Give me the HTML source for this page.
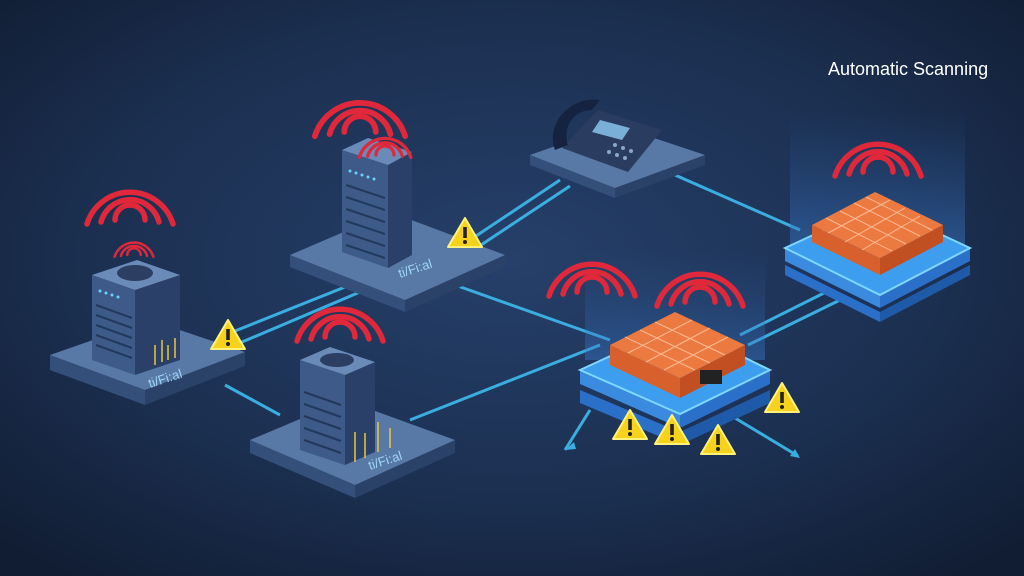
<!DOCTYPE html>
<html><head><meta charset="utf-8"><style>
html,body{margin:0;padding:0;width:1024px;height:576px;overflow:hidden;background:#152238}
</style></head><body>
<svg width="1024" height="576" viewBox="0 0 1024 576" xmlns="http://www.w3.org/2000/svg" font-family="Liberation Sans, sans-serif">
<defs>
<radialGradient id="bg" cx="50%" cy="45%" r="70%">
<stop offset="0" stop-color="#26406a"/><stop offset="0.6" stop-color="#1b2f50"/><stop offset="1" stop-color="#111d33"/>
</radialGradient>
<linearGradient id="glow" x1="0" y1="0" x2="0" y2="1">
<stop offset="0" stop-color="#2a5a9a" stop-opacity="0"/><stop offset="1" stop-color="#3a7acc" stop-opacity="0.55"/>
</linearGradient>
<g id="warn">
<polygon points="0,-15 17,14 -17,14" fill="#f6d21c" stroke="#fff27a" stroke-width="2" stroke-linejoin="round"/>
<rect x="-1.8" y="-6" width="3.6" height="11" fill="#222"/><circle cx="0" cy="9" r="2" fill="#222"/>
</g>
<g id="wifi" fill="none" stroke="#e0283a" stroke-width="5.5" stroke-linecap="round">
<path d="M-15,0 A15,15 0 0 1 15,0"/><path d="M-29,2 A30,30 0 0 1 29,2"/><path d="M-43,4 A45,45 0 0 1 43,4"/>
</g>
</defs>
<rect width="1024" height="576" fill="url(#bg)"/>

<g stroke="#3aaee0" stroke-width="3" fill="none">
<line x1="225" y1="335" x2="350" y2="285"/><line x1="235" y1="345" x2="360" y2="292"/>
<line x1="470" y1="240" x2="560" y2="180"/><line x1="478" y1="247" x2="570" y2="186"/>
<line x1="455" y1="285" x2="610" y2="340"/>
<line x1="675" y1="175" x2="800" y2="230"/>
<line x1="410" y1="420" x2="600" y2="345"/>
<line x1="225" y1="385" x2="280" y2="415"/>
<line x1="740" y1="335" x2="830" y2="290"/><line x1="748" y1="345" x2="840" y2="300"/>
<line x1="590" y1="410" x2="565" y2="450"/>
<line x1="735" y1="418" x2="798" y2="456"/>
</g>

<rect x="790" y="110" width="175" height="150" fill="url(#glow)"/>
<rect x="585" y="250" width="180" height="110" fill="url(#glow)" opacity="0.8"/>

<polygon points="50,355 145,390 145,405 50,370" fill="#34507a"/>
<polygon points="145,390 245,352 245,366 145,405" fill="#2a4268"/>
<polygon points="50,355 150,320 245,352 145,390" fill="#5878a6"/>
<polygon points="92,275 135,290 135,375 92,360" fill="#3d5a88"/>
<polygon points="135,290 180,275 180,360 135,375" fill="#2a4068"/>
<polygon points="92,275 137,260 180,275 135,290" fill="#6a8ab8"/>
<ellipse cx="135" cy="273" rx="18" ry="8" fill="#2c3f62"/>
<g stroke="#22385c" stroke-width="2"><line x1="96" y1="305" x2="132" y2="318"/><line x1="96" y1="315" x2="132" y2="328"/><line x1="96" y1="325" x2="132" y2="338"/><line x1="96" y1="335" x2="132" y2="348"/><line x1="96" y1="345" x2="132" y2="358"/></g>
<g fill="#6ad0ff"><circle cx="100" cy="291" r="1.5"/><circle cx="106" cy="293" r="1.5"/><circle cx="112" cy="295" r="1.5"/><circle cx="118" cy="297" r="1.5"/></g>
<path d="M155,365 v-20 M162,362 v-22 M168,360 v-15 M175,358 v-20" stroke="#e8c83a" stroke-width="1.5"/>
<text x="150" y="388" fill="#9ed6f6" font-size="13" transform="rotate(-18 150 388)">ti/Fi:al</text>
<use href="#wifi" transform="translate(130,220) scale(1)"/>
<use href="#wifi" transform="translate(134,255) scale(0.45)"/>
<use href="#warn" x="228" y="335"/>

<polygon points="290,255 405,300 405,312 290,267" fill="#34507a"/>
<polygon points="405,300 505,255 505,267 405,312" fill="#2a4268"/>
<polygon points="290,255 390,212 505,255 405,300" fill="#5878a6"/>
<polygon points="342,150 388,165 388,268 342,252" fill="#3d5a88"/>
<polygon points="388,165 412,152 412,255 388,268" fill="#2a4068"/>
<polygon points="342,150 368,138 412,152 388,165" fill="#6a8ab8"/>
<g stroke="#22385c" stroke-width="2"><line x1="346" y1="185" x2="385" y2="198"/><line x1="346" y1="197" x2="385" y2="210"/><line x1="346" y1="209" x2="385" y2="222"/><line x1="346" y1="221" x2="385" y2="234"/><line x1="346" y1="233" x2="385" y2="246"/><line x1="346" y1="245" x2="385" y2="258"/></g>
<g fill="#6ad0ff"><circle cx="350" cy="171" r="1.5"/><circle cx="356" cy="173" r="1.5"/><circle cx="362" cy="175" r="1.5"/><circle cx="368" cy="177" r="1.5"/><circle cx="374" cy="179" r="1.5"/></g>
<text x="400" y="278" fill="#9ed6f6" font-size="13" transform="rotate(-18 400 278)">ti/Fi:al</text>
<use href="#wifi" transform="translate(360,132) scale(1.05)"/>
<use href="#wifi" transform="translate(385,155) scale(0.6)"/>
<use href="#warn" x="465" y="233"/>

<polygon points="250,440 355,485 355,498 250,453" fill="#34507a"/>
<polygon points="355,485 455,440 455,453 355,498" fill="#2a4268"/>
<polygon points="250,440 345,400 455,440 355,485" fill="#5878a6"/>
<polygon points="300,360 345,375 345,465 300,450" fill="#3d5a88"/>
<polygon points="345,375 375,362 375,452 345,465" fill="#2a4068"/>
<polygon points="300,360 330,347 375,362 345,375" fill="#6a8ab8"/>
<ellipse cx="337" cy="360" rx="17" ry="7" fill="#2c3f62"/>
<g stroke="#22385c" stroke-width="2"><line x1="304" y1="392" x2="341" y2="405"/><line x1="304" y1="404" x2="341" y2="417"/><line x1="304" y1="416" x2="341" y2="429"/><line x1="304" y1="428" x2="341" y2="441"/><line x1="304" y1="440" x2="341" y2="453"/></g>
<path d="M355,462 v-30 M365,458 v-25 M378,452 v-30 M390,448 v-20" stroke="#e8c83a" stroke-width="1.5"/>
<text x="370" y="470" fill="#9ed6f6" font-size="13" transform="rotate(-18 370 470)">ti/Fi:al</text>
<use href="#wifi" transform="translate(340,337) scale(1)"/>

<polygon points="530,155 615,188 615,198 530,165" fill="#34507a"/>
<polygon points="615,188 705,155 705,165 615,198" fill="#2a4268"/>
<polygon points="530,155 615,125 705,155 615,188" fill="#5878a6"/>
<polygon points="562,148 598,110 662,130 628,172" fill="#2a3d60"/>
<polygon points="600,120 630,128 622,140 592,132" fill="#7ab0d8"/>
<g fill="#8aa6c8"><circle cx="615" cy="145" r="2"/><circle cx="623" cy="148" r="2"/><circle cx="631" cy="151" r="2"/><circle cx="609" cy="152" r="2"/><circle cx="617" cy="155" r="2"/><circle cx="625" cy="158" r="2"/></g>
<path d="M555,150 C545,125 570,95 600,100 L592,110 C575,110 562,125 568,145 Z" fill="#152340"/>

<polygon points="785,265 880,312 880,322 785,275" fill="#2a70c8"/>
<polygon points="880,312 970,265 970,275 880,322" fill="#1f5aa8"/>
<polygon points="785,248 880,295 880,308 785,261" fill="#3a8ae0"/>
<polygon points="880,295 970,248 970,261 880,308" fill="#2a70c8"/>
<polygon points="785,248 878,205 970,248 880,295" fill="#3d9ef0" stroke="#7fd6ff" stroke-width="2"/>
<polygon points="812,225 880,258 880,275 812,242" fill="#d8602c"/>
<polygon points="880,258 943,225 943,242 880,275" fill="#c24f22"/>
<polygon points="812,225 875,192 943,225 880,258" fill="#ec7a40"/>
<g stroke="#ffc9a8" stroke-width="1" opacity="0.8">
<line x1="826" y1="218" x2="892" y2="251"/><line x1="840" y1="211" x2="906" y2="244"/><line x1="854" y1="203" x2="920" y2="236"/><line x1="866" y1="197" x2="932" y2="230"/>
<line x1="828" y1="233" x2="890" y2="200"/><line x1="845" y1="242" x2="905" y2="208"/><line x1="862" y1="250" x2="920" y2="216"/>
</g>
<use href="#wifi" transform="translate(878,172) scale(1)"/>

<polygon points="580,390 680,432 680,445 580,403" fill="#2a70c8"/>
<polygon points="680,432 770,390 770,403 680,445" fill="#1f5aa8"/>
<polygon points="580,370 680,414 680,428 580,384" fill="#3a8ae0"/>
<polygon points="680,414 770,370 770,384 680,428" fill="#2a70c8"/>
<polygon points="580,370 678,325 770,370 680,414" fill="#3d9ef0" stroke="#7fd6ff" stroke-width="2"/>
<polygon points="610,345 680,378 680,398 610,365" fill="#d8602c"/>
<polygon points="680,378 745,345 745,365 680,398" fill="#c24f22"/>
<polygon points="610,345 675,312 745,345 680,378" fill="#ec7a40"/>
<g stroke="#ffc9a8" stroke-width="1" opacity="0.8">
<line x1="625" y1="337" x2="695" y2="370"/><line x1="640" y1="330" x2="710" y2="363"/><line x1="655" y1="322" x2="725" y2="355"/>
<line x1="628" y1="353" x2="692" y2="320"/><line x1="646" y1="362" x2="710" y2="328"/><line x1="664" y1="370" x2="728" y2="337"/>
</g>
<rect x="700" y="370" width="22" height="14" fill="#222"/>
<use href="#wifi" transform="translate(592,292) scale(1)"/>
<use href="#wifi" transform="translate(700,302) scale(1)"/>
<use href="#warn" x="630" y="425"/>
<use href="#warn" x="672" y="430"/>
<use href="#warn" x="718" y="440"/>
<use href="#warn" x="782" y="398"/>
<polygon points="565,450 574,442 576,449" fill="#3aaee0"/>
<polygon points="800,458 790,456 795,449" fill="#3aaee0"/>

<text x="828" y="75" fill="#ffffff" font-size="18">Automatic Scanning</text>
</svg>
</body></html>
